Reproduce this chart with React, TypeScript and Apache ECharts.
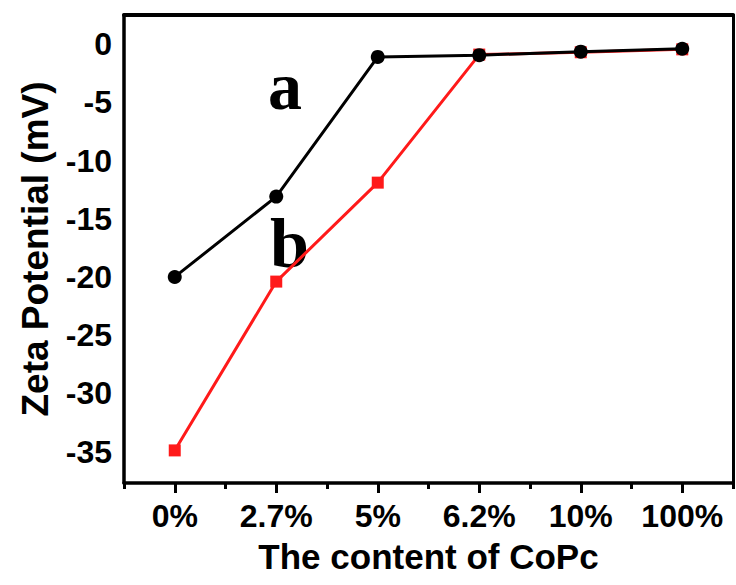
import React, { useEffect, useRef } from "react";
import * as echarts from "echarts";

const categories = ["0%", "2.7%", "5%", "6.2%", "10%", "100%"];
const seriesA = [-20, -13.1, -1.1, -0.95, -0.65, -0.4];
const seriesB = [-34.9, -20.4, -11.9, -0.9, -0.7, -0.45];
const yTicks = [0, -5, -10, -15, -20, -25, -30, -35];
const yMin = -37.7;
const yMax = 2.5;

const FONT = "'Liberation Sans', Arial, sans-serif";

export default function App() {
  const ref = useRef<HTMLDivElement>(null);
  useEffect(() => {
    if (!ref.current) return;
    const chart = echarts.init(ref.current, null, { renderer: "svg" });
    chart.setOption({
      animation: false,
      backgroundColor: "#fff",
      grid: { left: 124, right: 3, top: 15, bottom: 102, show: false },
      xAxis: [
        {
          type: "category",
          data: categories,
          position: "bottom",
          boundaryGap: true,
          name: "The content of CoPc",
          nameLocation: "middle",
          nameGap: 56,
          nameTextStyle: { fontFamily: FONT, fontWeight: "bold", fontSize: 35, color: "#000" },
          axisLine: { show: true, onZero: false, lineStyle: { color: "#000", width: 3.5 } },
          axisTick: { show: true, alignWithLabel: true, length: 10, lineStyle: { color: "#000", width: 3 } },
          axisLabel: { interval: 0, margin: 17, fontFamily: FONT, fontWeight: "bold", fontSize: 32, color: "#000" },
          splitLine: { show: false },
        },
        {
          type: "category",
          data: categories,
          position: "bottom",
          boundaryGap: true,
          axisLine: { show: false, onZero: false },
          axisTick: { show: true, interval: 0, length: 6, lineStyle: { color: "#000", width: 3 } },
          axisLabel: { show: false },
          splitLine: { show: false },
        },
        {
          type: "category",
          data: categories,
          position: "top",
          boundaryGap: true,
          axisLine: { show: true, onZero: false, lineStyle: { color: "#000", width: 4 } },
          axisTick: { show: false },
          axisLabel: { show: false },
          splitLine: { show: false },
        },
      ],
      yAxis: [
        {
          type: "value",
          min: yMin,
          max: yMax,
          splitNumber: 8,
          position: "left",
          name: "Zeta Potential (mV)",
          nameLocation: "middle",
          nameGap: 70,
          nameRotate: 90,
          nameTextStyle: { fontFamily: FONT, fontWeight: "bold", fontSize: 37, color: "#000" },
          axisLine: { show: true, onZero: false, lineStyle: { color: "#000", width: 3.5 } },
          axisTick: { show: false },
          splitLine: { show: false },
          axisLabel: {
            margin: 12,
            fontFamily: FONT,
            fontWeight: "bold",
            fontSize: 32,
            color: "#000",
            formatter: (v: number) => (yTicks.includes(v) ? String(v) : ""),
          },
        },
        {
          type: "value",
          min: yMin,
          max: yMax,
          position: "right",
          axisLine: { show: true, onZero: false, lineStyle: { color: "#000", width: 3 } },
          axisTick: { show: false },
          axisLabel: { show: false },
          splitLine: { show: false },
        },
      ],
      series: [
        {
          name: "b",
          type: "line",
          data: seriesB,
          xAxisIndex: 0,
          yAxisIndex: 0,
          symbol: "rect",
          symbolSize: 12,
          lineStyle: { color: "#ff1a1a", width: 3 },
          itemStyle: { color: "#ff1a1a" },
          z: 2,
        },
        {
          name: "a",
          type: "line",
          data: seriesA,
          xAxisIndex: 0,
          yAxisIndex: 0,
          symbol: "circle",
          symbolSize: 14,
          lineStyle: { color: "#000", width: 3 },
          itemStyle: { color: "#000" },
          z: 3,
        },
      ],
      graphic: [
        {
          type: "text",
          left: 268,
          top: 52,
          style: { text: "a", font: "bold 68px 'Liberation Serif', 'Times New Roman', serif", fill: "#000" },
        },
        {
          type: "text",
          left: 270,
          top: 208,
          style: { text: "b", font: "bold 70px 'Liberation Serif', 'Times New Roman', serif", fill: "#000" },
        },
      ],
    });
    return () => chart.dispose();
  }, []);
  return (
    <div
      ref={ref}
      style={{ position: "fixed", left: 0, top: 0, width: 736, height: 585, overflow: "hidden" }}
    />
  );
}
